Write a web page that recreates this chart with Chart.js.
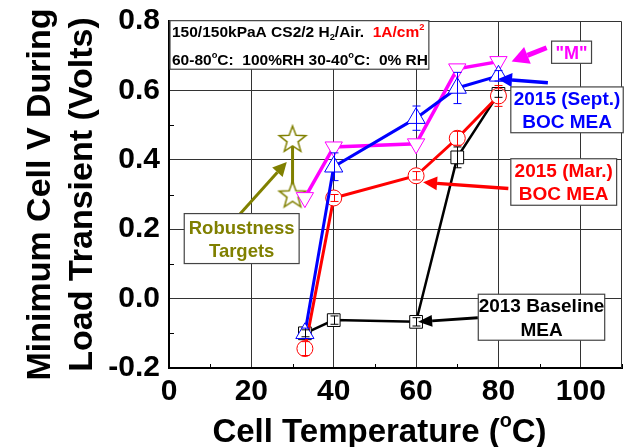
<!DOCTYPE html>
<html>
<head>
<meta charset="utf-8">
<script src="https://cdn.jsdelivr.net/npm/chart.js@4.4.1/dist/chart.umd.min.js"></script>
<style>
  html, body { margin: 0; padding: 0; background: #fff; overflow: hidden; }
  canvas { display: block; }
</style>
</head>
<body>
<canvas id="chart" width="627" height="447"></canvas>
<script>
// values (cell temperature in C, min cell voltage in V)
const temps = [33, 40, 60, 70, 80];
const baseline2013 = [-0.10, -0.062, -0.067, 0.407, 0.59];
const baseline2013Err = [0.01, 0.012, 0.012, 0.03, 0.01];
const mar2015 = [-0.144, 0.29, 0.354, 0.462, 0.584];
const mar2015Err = [0.02, 0.01, 0.012, 0.02, 0.03];
const sept2015 = [-0.10, 0.38, 0.52, 0.607, 0.642];
const sept2015Err = [0.015, 0.04, 0.035, 0.045, 0.015];
const mSeries = [0.291, 0.437, 0.446, 0.662, 0.683];
const targetTemps = [30, 30];
const targets = [0.30, 0.46];

const xTicks = [0, 20, 40, 60, 80, 100];
const yTicks = [-0.2, 0.0, 0.2, 0.4, 0.6, 0.8];
const yTitle = ['Minimum Cell V During', 'Load Transient (Volts)'];

const FONT = "'Liberation Sans', Arial, sans-serif";
const BLUE = '#0000ff', RED = '#ff0000', MAG = '#ff00ff', OLIVE = '#808000', BLACK = '#000000';

// hollow five point star for the robustness targets
const starImg = (() => {
  const c = document.createElement('canvas');
  c.width = 32; c.height = 32;
  const g = c.getContext('2d');
  g.beginPath();
  for (let i = 0; i < 10; i++) {
    const r = i % 2 ? 5.8 : 14;
    const a = -Math.PI / 2 + i * Math.PI / 5;
    const px = 16 + r * Math.cos(a), py = 17 + r * Math.sin(a);
    if (i) g.lineTo(px, py); else g.moveTo(px, py);
  }
  g.closePath();
  g.fillStyle = '#fff';
  g.fill();
  g.strokeStyle = OLIVE;
  g.lineWidth = 1.5;
  g.stroke();
  return c;
})();

function pts(xs, ys) {
  return xs.map((x, i) => ({ x: x, y: ys[i] }));
}

function series(label, ys, errs, color, style, extra) {
  return Object.assign({
    label: label,
    data: pts(temps, ys),
    errors: errs,
    showLine: true,
    borderColor: color,
    borderWidth: 3,
    pointStyle: style,
    pointBorderColor: color,
    pointBackgroundColor: '#fff',
    pointBorderWidth: 1,
    pointRadius: 8
  }, extra || {});
}

// keep the plot box fixed: no extra room for the end labels
function noPad(s) {
  s.paddingTop = 0; s.paddingBottom = 0; s.paddingLeft = 0; s.paddingRight = 0;
}

// minor ticks pointing inward, plus top/right frame
const framePlugin = {
  id: 'frame',
  beforeDatasetsDraw(chart) {
    const { ctx, chartArea: a, scales: { x, y } } = chart;
    ctx.save();
    ctx.strokeStyle = '#333';
    ctx.lineWidth = 1;
    ctx.beginPath();
    ctx.moveTo(a.left, a.top + 0.5);
    ctx.lineTo(a.right - 0.5, a.top + 0.5);
    ctx.lineTo(a.right - 0.5, a.bottom);
    ctx.stroke();
    ctx.strokeStyle = '#000';
    ctx.beginPath();
    for (let i = 0; i < xTicks.length; i++) {
      const v = xTicks[i] + 10;
      const px = Math.round(x.getPixelForValue(v)) + 0.5;
      ctx.moveTo(px, a.bottom);
      ctx.lineTo(px, a.bottom - 4);
    }
    for (let i = 0; i < yTicks.length - 1; i++) {
      const v = (yTicks[i] + yTicks[i + 1]) / 2;
      const py = Math.round(y.getPixelForValue(v)) + 0.5;
      ctx.moveTo(a.left, py);
      ctx.lineTo(a.left + 5, py);
    }
    ctx.stroke();
    ctx.restore();
  }
};

const errorBarPlugin = {
  id: 'errorBars',
  afterDatasetsDraw(chart) {
    const { ctx, scales: { x, y } } = chart;
    ctx.save();
    ctx.lineWidth = 1;
    chart.data.datasets.forEach(ds => {
      if (!ds.errors) return;
      ctx.strokeStyle = ds.borderColor;
      ds.data.forEach((p, i) => {
        const e = ds.errors[i];
        const px = Math.round(x.getPixelForValue(p.x)) + 0.5;
        const y1 = y.getPixelForValue(p.y + e), y2 = y.getPixelForValue(p.y - e);
        ctx.beginPath();
        ctx.moveTo(px, y1); ctx.lineTo(px, y2);
        ctx.moveTo(px - 4, y1); ctx.lineTo(px + 4, y1);
        ctx.moveTo(px - 4, y2); ctx.lineTo(px + 4, y2);
        ctx.stroke();
      });
    });
    ctx.restore();
  }
};

// annotation boxes: [left, top, right, bottom] in data units
const notes = [
  { box: [0.24, 0.801, 63.1, 0.661], size: 15.5, gap: 28, align: 'left', lines: [
    [{ t: '150/150kPaA CS2/2 H' }, { t: '2', sub: true }, { t: '/Air.  ' }, { t: '1A/cm', c: RED }, { t: '2', sup: true, c: RED }],
    [{ t: '60-80' }, { t: 'o', sup: true }, { t: 'C:  100%RH 30-40' }, { t: 'o', sup: true }, { t: 'C:  0% RH' }]
  ] },
  { box: [92.9, 0.742, 102.6, 0.678], size: 18, gap: 0, color: MAG, lines: [[{ t: '"M"' }]] },
  { box: [83.0, 0.610, 110.3, 0.478], size: 19, gap: 23.3, color: BLUE, lines: [[{ t: '2015 (Sept.)' }], [{ t: 'BOC MEA' }]] },
  { box: [83.0, 0.403, 108.7, 0.269], size: 19, gap: 23.3, color: RED, lines: [[{ t: '2015 (Mar.)' }], [{ t: 'BOC MEA' }]] },
  { box: [75.1, 0.0126, 105.8, -0.120], size: 19, gap: 23.3, color: BLACK, lines: [[{ t: '2013 Baseline' }], [{ t: 'MEA' }]] },
  { box: [3.7, 0.245, 31.6, 0.101], size: 18.5, gap: 23.3, color: OLIVE, lines: [[{ t: 'Robustness' }], [{ t: 'Targets' }]] }
];

const arrows = [
  { from: [91.7, 0.723], to: [83.2, 0.683], color: MAG, w: 5, len: 17, half: 9 },
  { from: [92.0, 0.622], to: [79.9, 0.633], color: BLUE, w: 3.5, len: 14, half: 7 },
  { from: [82.4, 0.317], to: [61.7, 0.335], color: RED, w: 3.5, len: 14, half: 7 },
  { from: [75.0, -0.055], to: [60.5, -0.067], color: BLACK, w: 3, len: 14, half: 6 },
  { from: [16.8, 0.238], to: [28.6, 0.394], color: OLIVE, w: 3, len: 14, half: 7 }
];

function runFont(size, small) {
  return 'bold ' + (small ? size * 0.6 : size) + 'px ' + FONT;
}

function drawRuns(ctx, runs, x, base, size, align, color) {
  let w = 0;
  runs.forEach(r => { ctx.font = runFont(size, r.sub || r.sup); w += ctx.measureText(r.t).width; });
  let cx = align === 'left' ? x : x - w / 2;
  ctx.textAlign = 'left';
  ctx.textBaseline = 'alphabetic';
  runs.forEach(r => {
    ctx.font = runFont(size, r.sub || r.sup);
    ctx.fillStyle = r.c || color;
    const dy = r.sub ? size * 0.25 : (r.sup ? -size * 0.45 : 0);
    ctx.fillText(r.t, cx, base + dy);
    cx += ctx.measureText(r.t).width;
  });
}

const notesPlugin = {
  id: 'notes',
  afterDraw(chart) {
    const { ctx, scales: { x, y } } = chart;
    ctx.save();
    arrows.forEach(a => {
      const x1 = x.getPixelForValue(a.from[0]), y1 = y.getPixelForValue(a.from[1]);
      const x2 = x.getPixelForValue(a.to[0]), y2 = y.getPixelForValue(a.to[1]);
      const ang = Math.atan2(y2 - y1, x2 - x1);
      const bx = x2 - a.len * Math.cos(ang), by = y2 - a.len * Math.sin(ang);
      ctx.strokeStyle = a.color;
      ctx.fillStyle = a.color;
      ctx.lineWidth = a.w;
      ctx.beginPath();
      ctx.moveTo(x1, y1);
      ctx.lineTo(bx, by);
      ctx.stroke();
      ctx.beginPath();
      ctx.moveTo(x2, y2);
      ctx.lineTo(bx + a.half * Math.sin(ang), by - a.half * Math.cos(ang));
      ctx.lineTo(bx - a.half * Math.sin(ang), by + a.half * Math.cos(ang));
      ctx.closePath();
      ctx.fill();
    });
    notes.forEach(n => {
      const l = x.getPixelForValue(n.box[0]), t = y.getPixelForValue(n.box[1]);
      const r = x.getPixelForValue(n.box[2]), b = y.getPixelForValue(n.box[3]);
      ctx.fillStyle = '#fff';
      ctx.fillRect(l, t, r - l, b - t);
      ctx.strokeStyle = '#444';
      ctx.lineWidth = 1.2;
      ctx.strokeRect(l, t, r - l, b - t);
      const mid = (t + b) / 2;
      const first = mid - n.gap * (n.lines.length - 1) / 2;
      n.lines.forEach((runs, i) => {
        const base = first + i * n.gap + n.size * 0.36;
        const tx = n.align === 'left' ? l + 2 : (l + r) / 2;
        drawRuns(ctx, runs, tx, base, n.size, n.align, n.color || BLACK);
      });
    });
    // x axis title with superscript degree
    const cx = (x.left + x.right) / 2 - 16;
    drawRuns(ctx, [{ t: 'Cell Temperature (' }, { t: 'o', sup: true }, { t: 'C)' }], cx, 441.5, 33, 'center', BLACK);
    ctx.restore();
  }
};

new Chart(document.getElementById('chart'), {
  type: 'scatter',
  data: {
    datasets: [
      series('2015 (Sept.) BOC MEA', sept2015, sept2015Err, BLUE, 'triangle', { pointRadius: 10.5 }),
      series('"M"', mSeries, null, MAG, 'triangle', { pointRadius: 10, pointRotation: 180, borderWidth: 3.5 }),
      series('2015 (Mar.) BOC MEA', mar2015, mar2015Err, RED, 'circle'),
      series('2013 Baseline MEA', baseline2013, baseline2013Err, BLACK, 'rect', { pointRadius: 9, borderWidth: 2.5 }),
      {
        label: 'Robustness Targets',
        data: pts(targetTemps, targets),
        showLine: true,
        borderColor: OLIVE,
        borderWidth: 3,
        pointStyle: starImg,
        pointRadius: 14
      }
    ]
  },
  options: {
    responsive: false,
    animation: false,
    layout: { autoPadding: false, padding: { top: 21, right: 5, left: 0, bottom: 0 } },
    plugins: { legend: { display: false }, tooltip: { enabled: false } },
    scales: {
      x: {
        type: 'linear',
        min: 0,
        max: 110,
        afterBuildTicks: s => { s.ticks = xTicks.map(v => ({ value: v })); },
        afterFit: s => { s.height = 79; noPad(s); },
        grid: {
          color: c => (c.tick && c.tick.value > 0 ? '#333' : 'rgba(0,0,0,0)'),
          lineWidth: 1,
          drawTicks: false
        },
        border: { display: true, color: '#000', width: 2 },
        ticks: {
          color: '#000',
          padding: 6,
          maxRotation: 0,
          autoSkip: false,
          font: { family: FONT, size: 30, weight: 'bold' },
          callback: v => String(v)
        }
      },
      y: {
        type: 'linear',
        min: -0.2,
        max: 0.8,
        afterBuildTicks: s => { s.ticks = yTicks.map(v => ({ value: v })); },
        afterFit: s => { s.width = 169; noPad(s); },
        grid: {
          color: c => (c.tick && c.tick.value > -0.15 && c.tick.value < 0.75 ? '#333' : 'rgba(0,0,0,0)'),
          lineWidth: 1,
          drawTicks: false
        },
        border: { display: true, color: '#000', width: 2 },
        ticks: {
          color: '#000',
          padding: 9,
          font: { family: FONT, size: 30, weight: 'bold' },
          callback: v => (Math.abs(v) < 1e-9 ? '0.0' : v.toFixed(1))
        },
        title: {
          display: true,
          text: yTitle,
          color: '#000',
          font: { family: FONT, size: 34, weight: 'bold', lineHeight: 1.22 },
          padding: { top: 20, bottom: 0 }
        }
      }
    }
  },
  plugins: [framePlugin, errorBarPlugin, notesPlugin]
});
</script>
</body>
</html>
